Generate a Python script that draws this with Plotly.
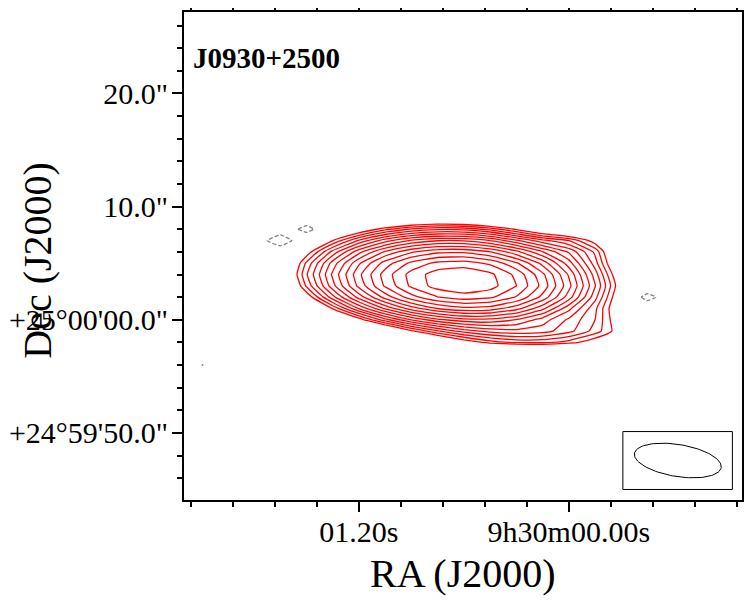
import numpy as np
import plotly.graph_objects as go

# Map grid: RA offset in seconds of time from 9h30m00s, Dec offset in arcsec from +25d00'00"
RA_GRID = [2.1, 1.95, 1.8, 1.65, 1.5, 1.35, 1.2, 1.05, 0.9, 0.75,
           0.6, 0.45, 0.3, 0.15, 0.0, -0.15, -0.3, -0.45, -0.6, -0.75]
DEC_GRID = [-6, -5, -4, -3, -2, -1, 0, 1, 2, 3, 4, 5, 6, 7, 8, 9, 10, 11]

# Intensity (uJy/beam), one row per Dec, one column per RA
MAP_UJY = [
    [0, 0, 0, 0, 0, 0, 0, 0, 0, 0, 0, 0, 0, 0, 0, 0, 0, 0, 0, 0],
    [0, 0, 0, 0, 0, 0, 0, 0, 0, 0, 0, 0, 0, 0, 0, 0, 0, 0, 0, 0],
    [-160, 0, 0, 0, 0, 0, 0, 0, 0, 0, 0, 0, 0, 0, 0, 0, 0, 0, 0, 0],
    [0, 0, 0, 0, 0, 0, 0, 0, 1, 3, 7, 13, 17, 18, 14, 8, 4, 1, 0, 0],
    [0, 0, 0, 0, 0, 0, 1, 6, 19, 50, 105, 175, 228, 231, 181, 109, 50, 18, 5, 1],
    [0, 0, 0, 0, 1, 3, 15, 51, 137, 290, 496, 682, 763, 696, 480, 260, 110, 47, 12, 3],
    [0, 0, 0, 1, 5, 29, 120, 371, 871, 1556, 2123, 2173, 1675, 1012, 560, 300, 90, 27, 7, 1],
    [0, 0, 0, 5, 31, 159, 621, 1832, 4081, 6872, 8744, 8173, 5501, 2672, 943, 330, 75, 8, 1, 0],
    [0, 0, 2, 16, 107, 528, 1967, 5540, 11792, 18965, 23045, 20573, 13203, 6091, 2020, 482, 83, -220, 1, 0],
    [0, 0, 4, 36, 225, 1059, 3774, 10157, 20660, 31751, 36870, 31483, 19324, 8526, 2705, 617, 101, 12, 1, 0],
    [0, 1, 6, 48, 286, 1289, 4392, 11311, 22023, 32420, 36082, 29573, 17438, 7412, 2284, 509, 80, 9, 1, 0],
    [0, 1, 5, 40, 227, 982, 3215, 7958, 14892, 21070, 22538, 17773, 10110, 4252, 1413, 355, 55, 5, 0, 0],
    [0, 0, 3, 21, 115, 480, 1511, 3594, 6463, 8789, 9036, 6859, 3800, 1736, 809, 276, 43, 3, 0, 0],
    [0, 0, 1, -300, 38, 151, 456, 1042, 1800, 2353, 2325, 1699, 923, 478, 300, 119, 19, 1, 0, 0],
    [0, 0, 0, 2, -220, 30, 88, 194, 322, 404, 384, 270, 141, 70, 43, 17, 3, 0, 0, 0],
    [0, 0, 0, 0, 1, 4, 11, 23, 37, 45, 41, 27, 14, 6, 2, 1, 0, 0, 0, 0],
    [0, 0, 0, 0, 0, 0, 1, 2, 3, 3, 3, 2, 1, 0, 0, 0, 0, 0, 0, 0],
    [0, 0, 0, 0, 0, 0, 0, 0, 0, 0, 0, 0, 0, 0, 0, 0, 0, 0, 0, 0],
]

# contour levels: 3 sigma times sqrt(2)^n, plus -3 sigma
LEVEL0 = 150
N_LEVELS = 16

# restoring beam (arcsec, arcsec, deg) and where it is drawn
BMAJ, BMIN, BPA = 6.86, 2.82, 79.0
BEAM_RA, BEAM_DEC = -0.623, -12.44

X_TICKS = [1.2, 0.0]
X_LABELS = ['01.20s', '9h30m00.00s']
Y_TICKS = [20, 10, 0, -10]
Y_LABELS = ['20.0"', '10.0"', '+25°00\'00.0"', '+24°59\'50.0"']

SERIF = 'Liberation Serif'

z = np.array(MAP_UJY, dtype=float)
step = np.log10(np.sqrt(2))
log0 = np.log10(LEVEL0)

fig = go.Figure()

# positive contours (log spaced)
fig.add_trace(go.Contour(
    x=RA_GRID, y=DEC_GRID, z=np.log10(np.clip(z, 1, None)),
    contours=dict(coloring='lines', start=log0, end=log0 + (N_LEVELS - 1) * step, size=step),
    colorscale=[[0, 'red'], [1, 'red']], showscale=False,
    line=dict(width=1.3, smoothing=0.4), hoverinfo='skip'))

# negative contour
fig.add_trace(go.Contour(
    x=RA_GRID, y=DEC_GRID, z=z,
    contours=dict(coloring='lines', start=-LEVEL0, end=-LEVEL0, size=1),
    colorscale=[[0, 'grey'], [1, 'grey']], showscale=False,
    line=dict(width=1.3, dash='4px,2px', smoothing=0.4), hoverinfo='skip'))

# beam ellipse
t = np.linspace(0, 2 * np.pi, 120)
pa = np.radians(BPA)
east = BMAJ / 2 * np.cos(t) * np.sin(pa) + BMIN / 2 * np.sin(t) * np.cos(pa)
north = BMAJ / 2 * np.cos(t) * np.cos(pa) - BMIN / 2 * np.sin(t) * np.sin(pa)
fig.add_trace(go.Scatter(
    x=BEAM_RA + east / (15 * np.cos(np.radians(25))), y=BEAM_DEC + north,
    mode='lines', line=dict(color='black', width=1), hoverinfo='skip'))
fig.add_shape(type='rect', x0=-0.309, x1=-0.935, y0=-9.88, y1=-15.0,
              line=dict(color='black', width=1))

# texts
fig.add_annotation(text='<b>J0930+2500</b>', x=0.0125, y=0.906, xref='paper', yref='paper',
                   xanchor='left', yanchor='middle', showarrow=False,
                   font=dict(size=29, family=SERIF, color='black'))
fig.add_annotation(text='Dec (J2000)', x=-0.262, y=0.492, xref='paper', yref='paper',
                   xanchor='center', yanchor='middle', showarrow=False, textangle=-90,
                   font=dict(size=40, family=SERIF, color='black'))
fig.add_annotation(text='RA (J2000)', x=0.5, y=-0.15, xref='paper', yref='paper',
                   xanchor='center', yanchor='middle', showarrow=False,
                   font=dict(size=40, family=SERIF, color='black'))

axis_common = dict(showline=True, linecolor='black', linewidth=2, mirror='ticks',
                   ticks='outside', ticklen=10, tickwidth=2, tickcolor='black',
                   showgrid=False, zeroline=False, automargin=False,
                   tickfont=dict(size=30, family=SERIF, color='black'))
fig.update_xaxes(range=[2.2, -0.99], tickvals=X_TICKS, ticktext=X_LABELS,
                 ticklabelstandoff=-6,
                 minor=dict(tick0=0, dtick=0.24, ticklen=5, tickwidth=2,
                            tickcolor='black', ticks='outside'),
                 **axis_common)
fig.update_yaxes(range=[-15.93, 27.2], tickvals=Y_TICKS, ticktext=Y_LABELS,
                 ticklabelstandoff=-2,
                 minor=dict(tick0=0, dtick=2, ticklen=5, tickwidth=2,
                            tickcolor='black', ticks='outside'),
                 **axis_common)
# the page adds an 8px body margin, so the figure is 8px smaller than the window
fig.update_layout(width=744, height=594, margin=dict(l=176, r=10, t=4, b=102),
                  plot_bgcolor='white', paper_bgcolor='white', showlegend=False,
                  font=dict(family=SERIF))
fig.write_html("out.html")
